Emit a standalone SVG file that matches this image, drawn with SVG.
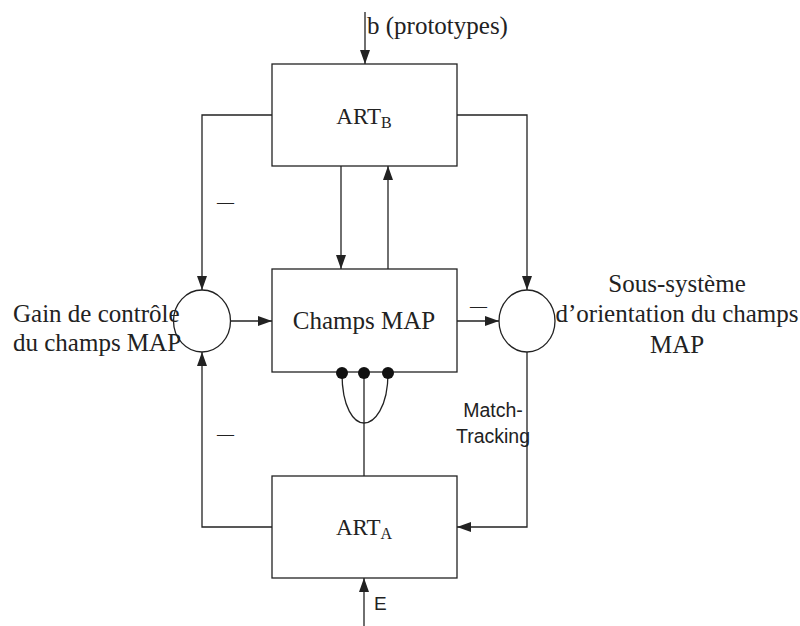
<svg xmlns="http://www.w3.org/2000/svg" width="800" height="626" viewBox="0 0 800 626">
<style>
.box{fill:#fff;stroke:#222;stroke-width:1.3}
.ln{fill:none;stroke:#222;stroke-width:1.3}
.ser{font-family:"Liberation Serif","Times New Roman",serif;fill:#222}
.sans{font-family:"Liberation Sans",Arial,sans-serif;fill:#222}
.arr{marker-end:url(#ah)}
</style>
<defs>
<marker id="ah" markerUnits="userSpaceOnUse" markerWidth="15" markerHeight="11" refX="14" refY="5" orient="auto">
<path d="M0,0 L14,5 L0,10 z" fill="#222"/>
</marker>
</defs>
<rect width="800" height="626" fill="#fff"/>
<g id="connectors">
<path class="ln arr" d="M365,12 V64"/>
<path class="ln arr" d="M364,626 V578"/>
<path class="ln arr" d="M272,115 H202 V290"/>
<path class="ln arr" d="M272,527 H202 V352"/>
<path class="ln arr" d="M457,115 H527 V290"/>
<path class="ln arr" d="M527,352 V527 H457"/>
<path class="ln arr" d="M230,321 H272"/>
<path class="ln arr" d="M457,321 H499"/>
<path class="ln arr" d="M341,166 V269"/>
<path class="ln arr" d="M388,269 V166"/>
<path class="ln" d="M364,372 V476"/>
<path class="ln" d="M342,373 C342,408 354,423 364,423 C374,423 388,408 388,373"/>
<text class="ser" x="217" y="207" font-size="17">—</text>
<text class="ser" x="217" y="439" font-size="17">—</text>
<text class="ser" x="470" y="311" font-size="17">—</text>
<text class="sans" x="493" y="417" font-size="19.5" text-anchor="middle">Match-</text>
<text class="sans" x="493" y="443" font-size="19.5" text-anchor="middle">Tracking</text>
<text class="ser" x="367" y="34" font-size="25">b (prototypes)</text>
<text class="sans" x="374" y="610" font-size="19">E</text>
</g>
<g id="artb">
<rect class="box" x="272" y="64" width="185" height="102"/>
<text class="ser" x="364" y="124" font-size="23" text-anchor="middle">ART<tspan font-size="16" dy="4">B</tspan></text>
</g>
<g id="champs">
<rect class="box" x="272" y="269" width="185" height="103"/>
<text class="ser" x="364" y="329" font-size="25" text-anchor="middle">Champs MAP</text>
<circle cx="342" cy="373" r="6" fill="#111"/>
<circle cx="364" cy="373" r="6" fill="#111"/>
<circle cx="388" cy="373" r="6" fill="#111"/>
</g>
<g id="arta">
<rect class="box" x="272" y="476" width="185" height="102"/>
<text class="ser" x="364" y="535" font-size="23" text-anchor="middle">ART<tspan font-size="16" dy="4">A</tspan></text>
</g>
<g id="gain">
<ellipse class="box" cx="202" cy="321" rx="28.5" ry="31"/>
<text class="ser" x="13" y="322" font-size="25">Gain de contrôle</text>
<text class="ser" x="13" y="351" font-size="25">du champs MAP</text>
</g>
<g id="orient">
<ellipse class="box" cx="527" cy="321" rx="28" ry="31"/>
<text class="ser" x="677" y="292" font-size="25" text-anchor="middle">Sous-système</text>
<text class="ser" x="677" y="322" font-size="25" text-anchor="middle">d’orientation du champs</text>
<text class="ser" x="677" y="353" font-size="25" text-anchor="middle">MAP</text>
</g>
</svg>
